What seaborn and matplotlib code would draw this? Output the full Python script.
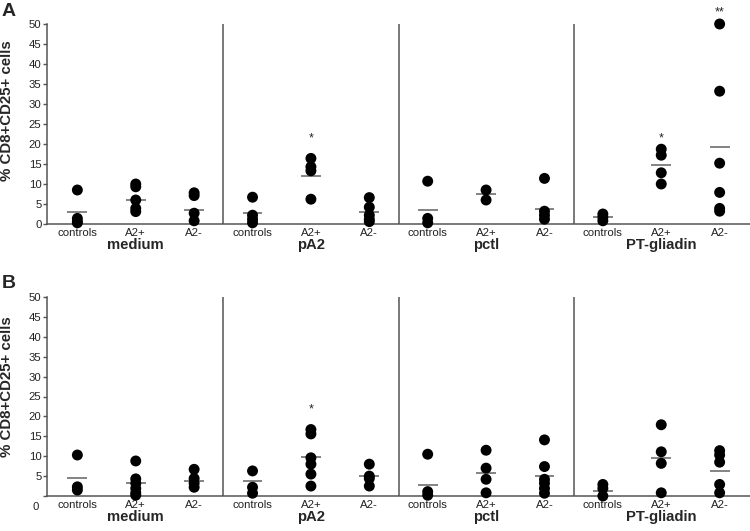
import numpy as np
import pandas as pd
import matplotlib
matplotlib.use("Agg")
import matplotlib.pyplot as plt
import matplotlib.transforms as mtransforms
import seaborn as sns

sns.set_theme(style="ticks")
plt.rcParams["font.family"] = ["Liberation Sans", "DejaVu Sans"]

stimuli = ["medium", "pA2", "pctl", "PT-gliadin"]
groups = ["controls", "A2+", "A2-"]

# panel A: % CD8+CD25+ cells per subject, 12 columns (stimulus x group)
a_points = [
    [8.5, 1.4, 0.6, 0.3],
    [10.0, 9.3, 6.0, 3.9, 3.1],
    [7.8, 7.1, 2.7, 0.8],
    [6.7, 2.2, 1.2, 0.3],
    [16.4, 14.3, 13.3, 6.2],
    [6.6, 4.2, 2.2, 1.2, 0.6],
    [10.7, 1.4, 0.3],
    [8.5, 6.0],
    [11.4, 3.2, 2.2, 1.2],
    [2.5, 1.7, 0.8],
    [18.7, 17.2, 12.8, 10.0],
    [50.0, 33.2, 15.2, 7.9, 3.9, 3.2],
]
a_means = [2.9, 6.0, 3.5, 2.7, 12.1, 2.9, 3.5, 7.5, 3.7, 1.7, 14.7, 19.2]
a_stars = {4: (22.3, "*"), 10: (22.5, "*"), 11: (53.9, "**")}

# panel B
b_points = [
    [10.3, 2.3, 1.5],
    [8.8, 4.3, 3.2, 1.9, 0.8, 0.2],
    [6.7, 4.4, 3.2, 2.2],
    [6.3, 2.2, 0.7],
    [16.7, 15.6, 9.6, 8.0, 5.5, 2.5],
    [8.0, 5.0, 4.4, 2.5],
    [10.5, 1.1, 0.2],
    [11.5, 7.0, 4.2, 0.8],
    [14.1, 7.4, 4.2, 3.2, 1.9, 0.7],
    [2.9, 1.9, 0.0],
    [17.9, 11.1, 8.2, 0.8],
    [11.4, 10.3, 8.5, 2.9, 0.8],
]
b_means = [4.4, 3.3, 3.8, 3.8, 9.7, 4.9, 2.8, 5.9, 5.1, 1.3, 9.6, 6.2]
b_stars = {4: (22.7, "*")}

W, H = 750, 531
fig = plt.figure(figsize=(7.5, 5.31), dpi=100)
axA = fig.add_axes([47 / W, 1 - 224 / H, 703 / W, 200 / H])
axB = fig.add_axes([47 / W, 1 - 496 / H, 703 / W, 199 / H])

spine_col = "#555555"


def draw_panel(ax, points, means, stars, label_y, zero_low):
    rows = [(i, v) for i, vals in enumerate(points) for v in vals]
    df = pd.DataFrame(rows, columns=["pos", "value"])
    sns.scatterplot(
        data=df, x="pos", y="value", color="black", s=62,
        edgecolor="none", ax=ax, clip_on=False, zorder=3
    )
    pos = np.arange(len(means))
    ax.hlines(means, pos - 0.17, pos + 0.17, color="#7a7a7a", lw=1.3, zorder=2)
    # asterisk glyph sits high in its box, nudge it down a little
    star_off = ax.transData + mtransforms.ScaledTranslation(0, -4 / 100, fig.dpi_scale_trans)
    for i, (y, s) in stars.items():
        ax.text(i, y, s, ha="center", va="center", fontsize=9,
                color="#222222", transform=star_off)
    for sep in [2.5, 5.5, 8.5]:
        ax.axvline(sep, color=spine_col, lw=1.1)

    ax.set_xlim(-0.52, 11.52)
    ax.set_ylim(0, 50)
    ax.set_yticks(np.arange(0, 51, 5))
    ax.set_xticks(pos)
    ax.set_xticklabels(groups * 4)
    ax.tick_params(axis="x", length=0, pad=3, labelsize=8.2, colors="#222222")
    ax.tick_params(axis="y", length=3, width=1, pad=1, labelsize=8.2,
                   colors="#222222", color=spine_col)
    for side in ["top", "right"]:
        ax.spines[side].set_visible(False)
    for side in ["left", "bottom"]:
        ax.spines[side].set_color(spine_col)
        ax.spines[side].set_linewidth(1.1)

    ax.set_xlabel("")
    ax.set_ylabel("% CD8+CD25+ cells", fontsize=10.8, fontweight="bold")
    ax.yaxis.set_label_coords(-0.047, label_y)

    trans = mtransforms.blended_transform_factory(ax.transData, ax.transAxes)
    for k, name in enumerate(stimuli):
        ax.text(3 * k + 1, -0.105, name, transform=trans, ha="center",
                va="center", fontsize=10.7, fontweight="bold")

    if zero_low:
        lab = ax.get_yticklabels()[0]
        off = mtransforms.ScaledTranslation(-3 / 100, -10 / 100, fig.dpi_scale_trans)
        lab.set_transform(lab.get_transform() + off)


draw_panel(axA, a_points, a_means, a_stars, 0.565, False)
draw_panel(axB, b_points, b_means, b_stars, 0.548, True)

fig.text(2 / W, 1 - 12 / H, "A", fontsize=14, fontweight="bold", va="center")
fig.text(2 / W, 1 - 283 / H, "B", fontsize=14, fontweight="bold", va="center")

fig.savefig("out.png", dpi=100)
